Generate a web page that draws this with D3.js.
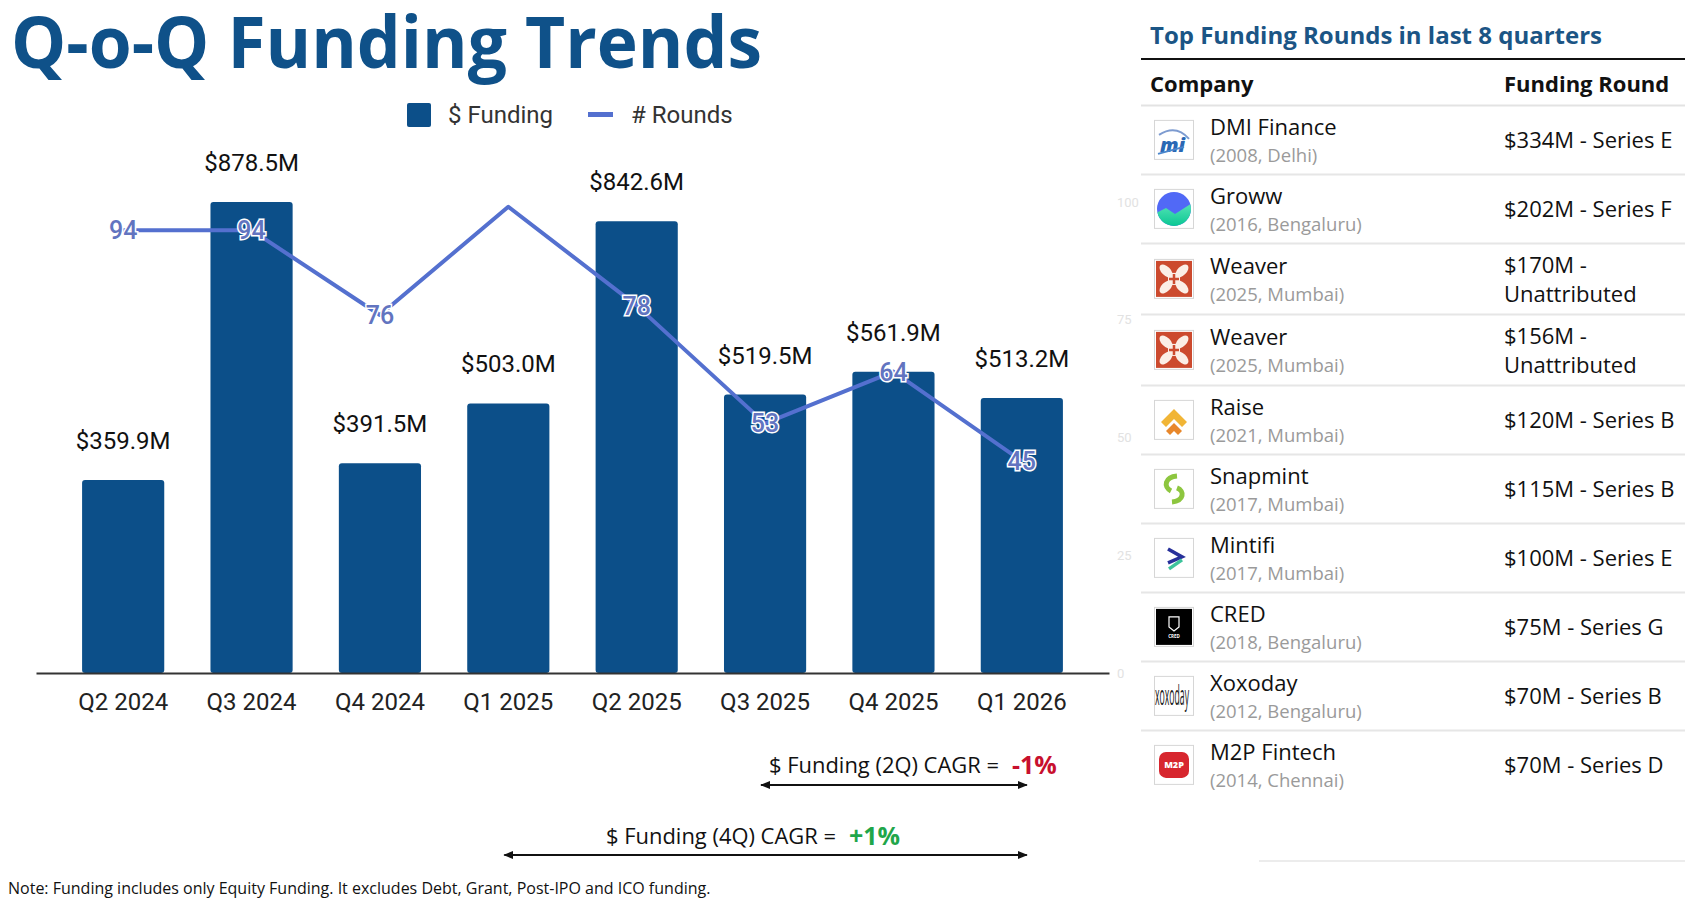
<!DOCTYPE html>
<html>
<head>
<meta charset="utf-8">
<script src="https://cdn.jsdelivr.net/npm/d3@7"></script>
<style>
  body { margin: 0; background: #fff; }
  text { font-family: "Open Sans", sans-serif; }
  .rb { font-family: Roboto, sans-serif; }
</style>
</head>
<body>
<svg id="chart" width="1688" height="914"></svg>
<script>
// ---- data ----
let quarters = ["Q2 2024", "Q3 2024", "Q4 2024", "Q1 2025", "Q2 2025", "Q3 2025", "Q4 2025", "Q1 2026"];
let funding = [359.9, 878.5, 391.5, 503.0, 842.6, 519.5, 561.9, 513.2]; // $M
let rounds = [94, 94, 76, 99, 78, 53, 64, 45];
let hiddenRoundLabels = ["Q1 2025"]; // peak label is not printed in the original
let roundTicks = [0, 25, 50, 75, 100];

let cagr = [
  { label: "$ Funding (2Q) CAGR = ", value: "-1%", from: "Q3 2025", to: "Q1 2026" },
  { label: "$ Funding (4Q) CAGR = ", value: "+1%", from: "Q1 2025", to: "Q1 2026" }
];

let companies = ["DMI Finance", "Groww", "Weaver", "Weaver", "Raise", "Snapmint", "Mintifi", "CRED", "Xoxoday", "M2P Fintech"];
let founded = ["(2008, Delhi)", "(2016, Bengaluru)", "(2025, Mumbai)", "(2025, Mumbai)", "(2021, Mumbai)",
  "(2017, Mumbai)", "(2017, Mumbai)", "(2018, Bengaluru)", "(2012, Bengaluru)", "(2014, Chennai)"];
let dealRounds = ["$334M - Series E", "$202M - Series F", "$170M - Unattributed", "$156M - Unattributed",
  "$120M - Series B", "$115M - Series B", "$100M - Series E", "$75M - Series G", "$70M - Series B", "$70M - Series D"];

let barColor = "#0c4f89", lineColor = "#5470cf", titleColor = "#0f5189";

let svg = d3.select("#chart");

// squeeze text horizontally if it runs wider than the original
function fit(sel, w) {
  sel.each(function () {
    if (this.getComputedTextLength() > w) {
      d3.select(this).attr("textLength", w).attr("lengthAdjust", "spacingAndGlyphs");
    }
  });
  return sel;
}

document.fonts.ready.then(draw);

function draw() {
  // title
  svg.append("text")
    .attr("x", 11).attr("y", 68)
    .style("font-size", "72px").style("font-weight", 700)
    .attr("fill", titleColor)
    .text("Q-o-Q Funding Trends")
    .call(fit, 751);

  // scales
  let x = d3.scaleBand().domain(quarters).range([36, 1109]).paddingInner(0.36).paddingOuter(0.359);
  let y = d3.scaleLinear().domain([0, 1000]).range([673, 137]);
  let yR = d3.scaleLinear().domain([0, 100]).range([673, 202]);
  let cx = q => x(q) + x.bandwidth() / 2;

  // legend
  let lg = svg.append("g");
  lg.append("rect").attr("x", 407).attr("y", 103).attr("width", 24).attr("height", 24).attr("rx", 2).attr("fill", barColor);
  lg.append("text").attr("class", "rb").attr("x", 448).attr("y", 123).style("font-size", "24px").attr("fill", "#333").text("$ Funding");
  lg.append("rect").attr("x", 588).attr("y", 112).attr("width", 25).attr("height", 5).attr("fill", lineColor);
  lg.append("text").attr("class", "rb").attr("x", 631).attr("y", 123).style("font-size", "24px").attr("fill", "#333").text("# Rounds");

  // faint right axis (rounds)
  svg.append("g")
    .attr("transform", "translate(1114,0)")
    .call(d3.axisRight(yR).tickValues(roundTicks).tickSize(0))
    .call(g => g.select(".domain").remove())
    .selectAll("text")
    .attr("class", "rb").style("font-size", "13px").attr("fill", "#e2e2e2");

  // bars
  svg.append("g").selectAll("rect")
    .data(quarters)
    .join("rect")
    .attr("x", d => x(d))
    .attr("y", (d, i) => y(funding[i]))
    .attr("width", x.bandwidth())
    .attr("height", (d, i) => y(0) - y(funding[i]))
    .attr("rx", 3)
    .attr("fill", barColor);

  // bar value labels
  svg.append("g").selectAll("text")
    .data(quarters)
    .join("text")
    .attr("class", "rb")
    .attr("x", d => cx(d))
    .attr("y", (d, i) => y(funding[i]) - 31)
    .attr("text-anchor", "middle")
    .style("font-size", "24px")
    .attr("fill", "#111")
    .attr("stroke", "#fff").attr("stroke-width", 3).style("paint-order", "stroke")
    .text((d, i) => "$" + funding[i].toFixed(1) + "M");

  // x axis
  let xa = svg.append("g")
    .attr("transform", "translate(0,673)")
    .call(d3.axisBottom(x).tickSize(0).tickPadding(20));
  xa.select(".domain").attr("stroke", "#333").attr("stroke-width", 2);
  xa.selectAll("text").attr("class", "rb").style("font-size", "24px").attr("fill", "#222");

  // rounds line
  let line = d3.line().x((d, i) => cx(quarters[i])).y(d => yR(d));
  svg.append("path")
    .datum(rounds)
    .attr("d", line)
    .attr("fill", "none")
    .attr("stroke", lineColor)
    .attr("stroke-width", 4)
    .attr("stroke-linejoin", "round");

  svg.append("g").selectAll("text")
    .data(quarters.filter(q => !hiddenRoundLabels.includes(q)))
    .join("text")
    .attr("class", "rb")
    .attr("x", d => cx(d))
    .attr("y", d => yR(rounds[quarters.indexOf(d)]) + 9)
    .attr("text-anchor", "middle")
    .style("font-size", "25px").style("font-weight", 500)
    .attr("fill", "#6274c0")
    .attr("stroke", "#fff").attr("stroke-width", 3).style("paint-order", "stroke")
    .text(d => rounds[quarters.indexOf(d)]);

  // CAGR annotations
  let defs = svg.append("defs");
  ["s", "e"].forEach(k => {
    defs.append("marker")
      .attr("id", "arr-" + k)
      .attr("viewBox", "0 0 10 10").attr("refX", 9).attr("refY", 5)
      .attr("markerWidth", 5).attr("markerHeight", 5)
      .attr("orient", k === "s" ? "auto-start-reverse" : "auto")
      .append("path").attr("d", "M0,1 L10,5 L0,9 Z").attr("fill", "#111");
  });

  let cagrText = [{ x: 769, base: 773, line: 785, w: 230 }, { x: 606, base: 844, line: 855, w: 230 }];
  cagr.forEach((c, i) => {
    let p = cagrText[i];
    svg.append("text").attr("x", p.x).attr("y", p.base).style("font-size", "22px").attr("fill", "#111")
      .text(c.label).call(fit, p.w);
    svg.append("text")
      .attr("x", p.x + p.w + 13).attr("y", p.base + 1)
      .style("font-size", "25px").style("font-weight", 700)
      .attr("fill", c.value.startsWith("-") ? "#c8102e" : "#1fa64a")
      .text(c.value);
    svg.append("line")
      .attr("x1", cx(c.from) - 4).attr("x2", cx(c.to) + 5)
      .attr("y1", p.line).attr("y2", p.line)
      .attr("stroke", "#111").attr("stroke-width", 2)
      .attr("marker-start", "url(#arr-s)").attr("marker-end", "url(#arr-e)");
  });

  // note
  svg.append("text").attr("x", 8).attr("y", 894).style("font-size", "16px").attr("fill", "#111")
    .text("Note: Funding includes only Equity Funding. It excludes Debt, Grant, Post-IPO and ICO funding.")
    .call(fit, 714);

  drawTable(defs);
}

function drawTable(defs) {
  let left = 1141, right = 1685, colA = 1150, colLogo = 1154, colName = 1210, colRound = 1504;

  svg.append("text").attr("x", colA).attr("y", 44)
    .style("font-size", "24px").style("font-weight", 700).attr("fill", "#1b5585")
    .text("Top Funding Rounds in last 8 quarters").call(fit, 452);
  svg.append("line").attr("x1", left).attr("x2", right).attr("y1", 59).attr("y2", 59).attr("stroke", "#111").attr("stroke-width", 2);

  svg.append("text").attr("x", colA).attr("y", 92).style("font-size", "22px").style("font-weight", 700).attr("fill", "#111").text("Company");
  svg.append("text").attr("x", colRound).attr("y", 92).style("font-size", "22px").style("font-weight", 700).attr("fill", "#111").text("Funding Round");
  svg.append("line").attr("x1", left).attr("x2", right).attr("y1", 105.4).attr("y2", 105.4).attr("stroke", "#e3e3e3").attr("stroke-width", 2);

  // gradients for Groww
  let gr = defs.append("linearGradient").attr("id", "growwG").attr("x1", 0).attr("y1", 0).attr("x2", 0).attr("y2", 1);
  gr.append("stop").attr("offset", "0%").attr("stop-color", "#5ce6b8");
  gr.append("stop").attr("offset", "100%").attr("stop-color", "#00c38f");
  defs.append("clipPath").attr("id", "growwClip").append("circle").attr("cx", 20).attr("cy", 20).attr("r", 17);

  let top = 105.4;
  companies.forEach((name, i) => {
    // wrap the round text to the cell
    let probe = svg.append("text").style("font-size", "22px").text(dealRounds[i]);
    let lines = [dealRounds[i]];
    if (probe.node().getComputedTextLength() > 178) {
      let cut = dealRounds[i].indexOf(" - ") + 2;
      lines = [dealRounds[i].slice(0, cut), dealRounds[i].slice(cut + 1)];
    }
    probe.remove();

    let h = lines.length > 1 ? 71 : 69;
    let mid = top + h / 2;
    let row = svg.append("g");

    let lg = row.append("g").attr("transform", `translate(${colLogo},${mid - 20})`);
    drawLogo(lg, name);

    row.append("text").attr("x", colName).attr("y", mid - 5).style("font-size", "22px").attr("fill", "#111").text(name);
    row.append("text").attr("x", colName).attr("y", mid + 22).style("font-size", "18.5px").attr("fill", "#9a9a9a").text(founded[i]);

    lines.forEach((l, j) => {
      row.append("text")
        .attr("x", colRound)
        .attr("y", lines.length > 1 ? mid - 6 + j * 29 : mid + 8)
        .style("font-size", "22px").attr("fill", "#111")
        .text(l);
    });

    top += h;
    if (i < companies.length - 1) {
      row.append("line").attr("x1", left).attr("x2", right).attr("y1", top).attr("y2", top)
        .attr("stroke", "#e6e6e6").attr("stroke-width", 2);
    }
  });

  svg.append("line").attr("x1", 1259).attr("x2", right).attr("y1", 861).attr("y2", 861).attr("stroke", "#ececec").attr("stroke-width", 2);
}

function drawLogo(g, name) {
  let frame = g.append("rect").attr("x", 0.5).attr("y", 0.5).attr("width", 39).attr("height", 39)
    .attr("fill", "#fff").attr("stroke", "#d6d6d6");
  if (name === "DMI Finance") {
    g.append("path").attr("d", "M5,15 Q22,4 35,19").attr("fill", "none").attr("stroke", "#7d9bd0").attr("stroke-width", 2);
    g.append("text").attr("x", 6).attr("y", 32).style("font-size", "20px").style("font-weight", 800)
      .style("font-style", "italic").attr("fill", "#2a68b4").text("mi");
    g.append("path").attr("d", "M4,34 L30,27").attr("stroke", "#4a86cc").attr("stroke-width", 2);
  } else if (name === "Groww") {
    let c = g.append("g").attr("clip-path", "url(#growwClip)");
    c.append("rect").attr("width", 40).attr("height", 40).attr("fill", "#5169f6");
    c.append("path").attr("d", "M0,25 L12,19 L21,25 L40,13 L40,40 L0,40 Z").attr("fill", "url(#growwG)");
  } else if (name === "Weaver") {
    g.append("rect").attr("x", 2).attr("y", 2).attr("width", 36).attr("height", 36).attr("fill", "#cc4a2e");
    [[12, 12, 45], [28, 12, -45], [12, 28, -45], [28, 28, 45]].forEach(p => {
      g.append("ellipse").attr("cx", p[0]).attr("cy", p[1]).attr("rx", 8).attr("ry", 4.5)
        .attr("transform", `rotate(${p[2]},${p[0]},${p[1]})`).attr("fill", "#fbeee6");
    });
    g.append("rect").attr("x", 14).attr("y", 14).attr("width", 12).attr("height", 12).attr("fill", "#fbeee6");
    g.append("path").attr("d", "M20,15 V25 M15,20 H25").attr("stroke", "#cc4a2e").attr("stroke-width", 2.5);
  } else if (name === "Raise") {
    g.append("path").attr("d", "M7,22 L20,9 L33,22 L28,27 L20,19 L12,27 Z").attr("fill", "#f1b536");
    g.append("path").attr("d", "M12,31 L20,23 L28,31 L24,35 L20,31 L16,35 Z").attr("fill", "#e8872b");
  } else if (name === "Snapmint") {
    g.append("path").attr("d", "M23,7 C11,8 9,18 17,22").attr("fill", "none").attr("stroke", "#8dc63f").attr("stroke-width", 5);
    g.append("path").attr("d", "M18,33 C30,32 31,22 23,19").attr("fill", "none").attr("stroke", "#8dc63f").attr("stroke-width", 5);
  } else if (name === "Mintifi") {
    g.append("path").attr("d", "M14,11 L28,19 L14,25").attr("fill", "none").attr("stroke", "#27309a").attr("stroke-width", 3.5);
    g.append("path").attr("d", "M15,31 L28,22").attr("fill", "none").attr("stroke", "#3dc39b").attr("stroke-width", 3.5);
  } else if (name === "CRED") {
    g.append("rect").attr("x", 2).attr("y", 2).attr("width", 36).attr("height", 36).attr("fill", "#000");
    g.append("path").attr("d", "M15,10 H25 V20 L20,24 L15,20 Z").attr("fill", "none").attr("stroke", "#fff").attr("stroke-width", 1.2);
    g.append("text").attr("x", 20).attr("y", 31).attr("text-anchor", "middle").style("font-size", "4.5px")
      .style("font-weight", 700).attr("fill", "#fff").text("CRED");
  } else if (name === "Xoxoday") {
    g.append("text").attr("transform", "translate(1,29) scale(0.62,2)").style("font-size", "14px")
      .attr("fill", "#222").text("xoxoday");
  } else if (name === "M2P Fintech") {
    g.append("rect").attr("x", 5).attr("y", 7).attr("width", 30).attr("height", 26).attr("rx", 7).attr("fill", "#d7262e");
    g.append("text").attr("x", 20).attr("y", 23.5).attr("text-anchor", "middle").style("font-size", "9px")
      .style("font-weight", 800).attr("fill", "#fff").text("M2P");
  }
  return frame;
}
</script>
</body>
</html>
